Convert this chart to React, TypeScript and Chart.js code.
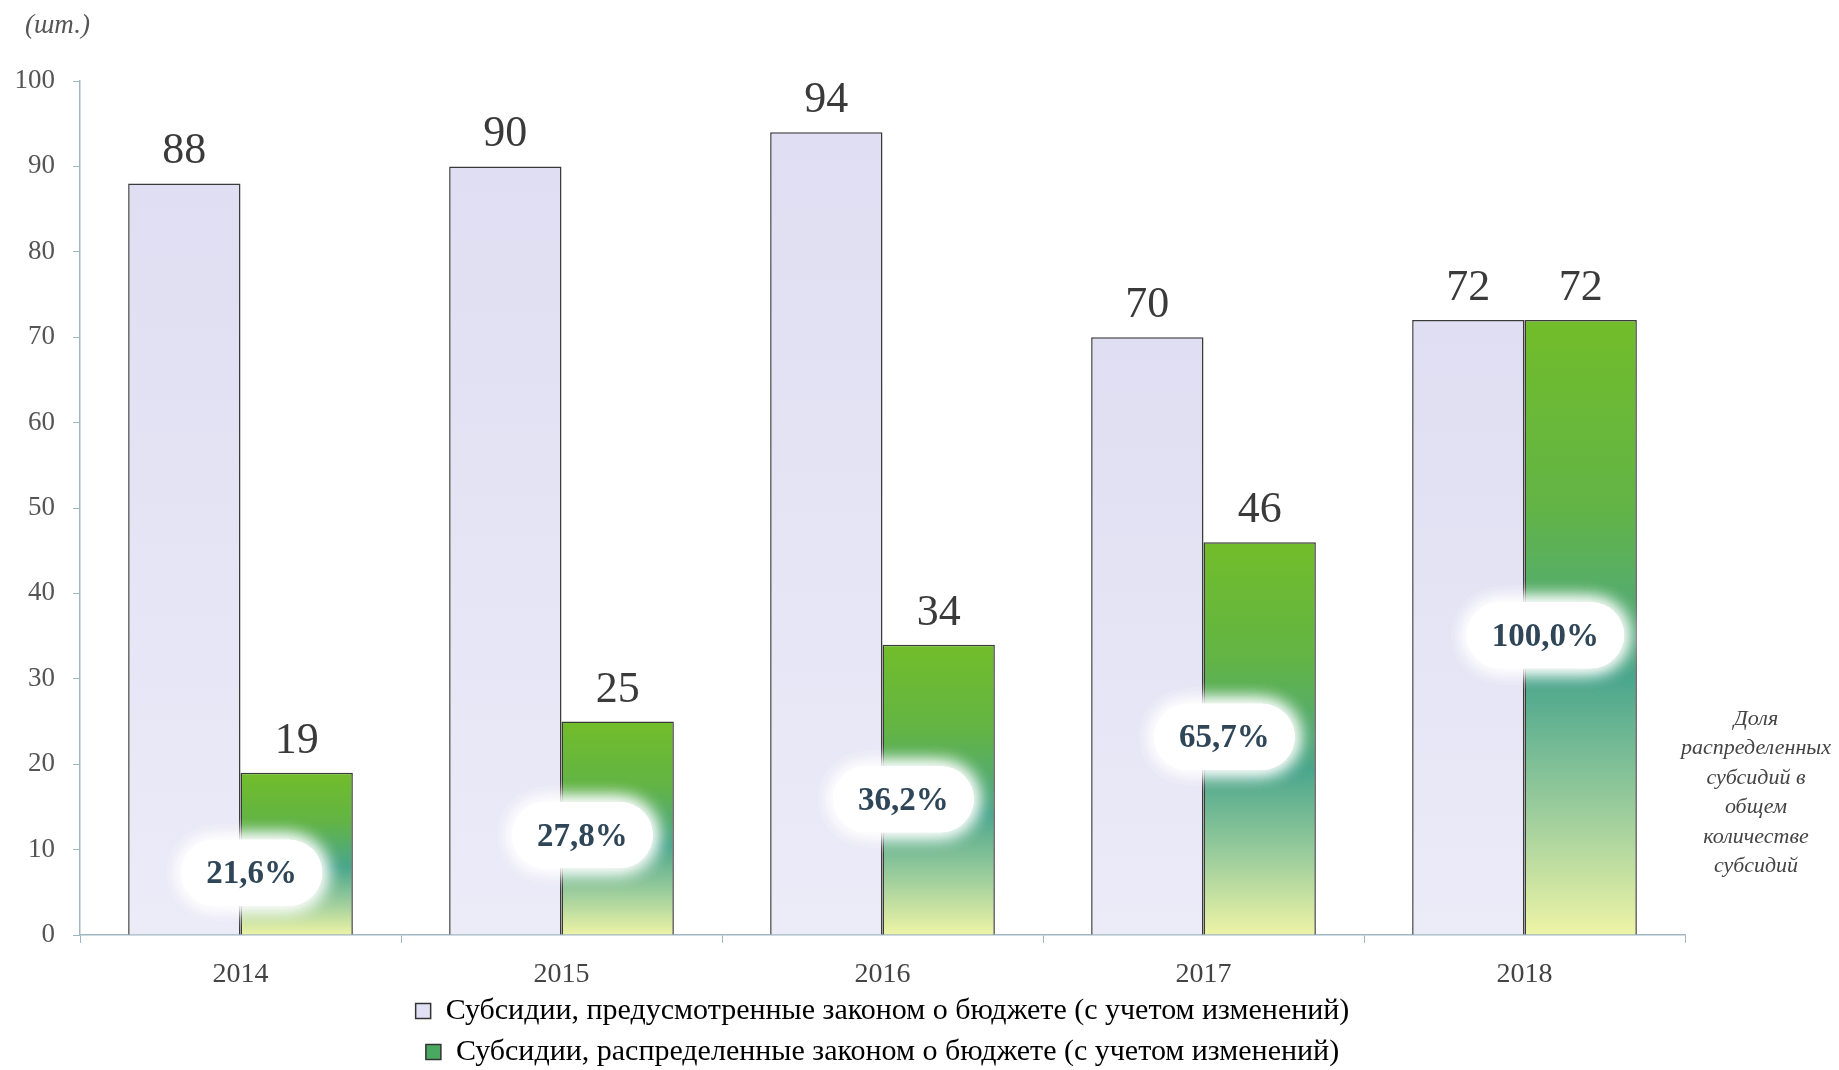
import React, { useEffect, useRef } from "react";
import { Chart, registerables } from "chart.js";

Chart.register(...registerables);

const years = ["2014", "2015", "2016", "2017", "2018"];
const planned = [88, 90, 94, 70, 72];
const distributed = [19, 25, 34, 46, 72];
const shareLabels = ["21,6%", "27,8%", "36,2%", "65,7%", "100,0%"];
const shareLabelLevel = [7.3, 11.7, 15.9, 23.2, 35.1];
const yTicks = [0, 10, 20, 30, 40, 50, 60, 70, 80, 90, 100];
const seriesNames = [
  "Субсидии, предусмотренные законом о бюджете (с учетом изменений)",
  "Субсидии, распределенные законом о бюджете (с учетом изменений)",
];
const unitLabel = "(шт.)";
const sideNote = ["Доля", "распределенных", "субсидий в", "общем", "количестве", "субсидий"];

const SERIF = "'Liberation Serif', 'Times New Roman', serif";

function barGradient(ctx: any, kind: "light" | "green") {
  const chart = ctx.chart;
  const area = chart.chartArea;
  if (!area || ctx.type !== "data") return kind === "light" ? "#e0dff3" : "#5aae50";
  const y = chart.scales.y;
  const v = ctx.raw as number;
  const top = y.getPixelForValue(v);
  const bottom = y.getPixelForValue(0);
  const g = chart.ctx.createLinearGradient(0, top, 0, bottom);
  if (kind === "light") {
    g.addColorStop(0, "#dfdef2");
    g.addColorStop(1, "#ecebf8");
  } else {
    g.addColorStop(0, "#72bd2a");
    g.addColorStop(0.3, "#62b445");
    g.addColorStop(0.58, "#4aa68c");
    g.addColorStop(0.8, "#9ccd9c");
    g.addColorStop(1, "#eef4a6");
  }
  return g;
}

const annotations = {
  id: "annotations",
  afterDatasetsDraw(chart: any) {
    const { ctx, scales } = chart;
    const x = scales.x;
    const y = scales.y;
    ctx.save();
    // value labels
    ctx.font = `44px ${SERIF}`;
    ctx.fillStyle = "#3a3a3a";
    ctx.textAlign = "center";
    ctx.textBaseline = "alphabetic";
    chart.data.datasets.forEach((ds: any, di: number) => {
      const meta = chart.getDatasetMeta(di);
      meta.data.forEach((bar: any, i: number) => {
        ctx.fillText(String(ds.data[i]), bar.x, bar.y - 20);
      });
    });
    // share pills
    const catW = x.getPixelForValue(1) - x.getPixelForValue(0);
    ctx.font = `bold 33px ${SERIF}`;
    shareLabels.forEach((txt, i) => {
      const cx = x.getPixelForValue(i) + catW * (i === 0 ? 0.035 : 0.065);
      const cy = y.getPixelForValue(shareLabelLevel[i]);
      const w = ctx.measureText(txt).width + 50;
      const h = 66;
      ctx.save();
      ctx.fillStyle = "#ffffff";
      ctx.shadowColor = "rgba(255,255,255,1)";
      ctx.shadowBlur = 20;
      ctx.beginPath();
      ctx.roundRect(cx - w / 2, cy - h / 2, w, h, h / 2);
      ctx.fill();
      ctx.fill();
      ctx.fill();
      ctx.restore();
      ctx.fillStyle = "#2f4658";
      ctx.textBaseline = "middle";
      ctx.fillText(txt, cx, cy + 2);
    });
    // unit label
    ctx.font = `italic 27px ${SERIF}`;
    ctx.fillStyle = "#555";
    ctx.textAlign = "left";
    ctx.textBaseline = "middle";
    ctx.fillText(unitLabel, 25, 26);
    // side note
    ctx.font = `italic 22px ${SERIF}`;
    ctx.fillStyle = "#444";
    ctx.textAlign = "center";
    const noteX = x.right + (chart.width - x.right) / 2 - 6;
    const noteTop = y.getPixelForValue(25.3);
    sideNote.forEach((line, i) => {
      ctx.fillText(line, noteX, noteTop + i * 29.5);
    });
    ctx.restore();
  },
};

export default function App() {
  const ref = useRef<HTMLCanvasElement | null>(null);
  useEffect(() => {
    if (!ref.current) return;
    const chart = new Chart(ref.current, {
      type: "bar",
      data: {
        labels: years,
        datasets: [
          {
            label: seriesNames[0],
            data: planned,
            backgroundColor: (c: any) => barGradient(c, "light"),
            borderColor: "#3a3a3a",
            borderWidth: 1.5,
            categoryPercentage: 0.7,
            barPercentage: 1.0,
          },
          {
            label: seriesNames[1],
            data: distributed,
            backgroundColor: (c: any) => barGradient(c, "green"),
            borderColor: "#3a3a3a",
            borderWidth: 1.5,
            categoryPercentage: 0.7,
            barPercentage: 1.0,
          },
        ],
      },
      options: {
        responsive: false,
        animation: false,
        devicePixelRatio: 1,
        layout: { padding: { left: 0, right: 154, top: 81, bottom: 0 } },
        plugins: {
          tooltip: { enabled: false },
          legend: {
            position: "bottom",
            fullSize: false,
            labels: {
              font: { family: SERIF, size: 30 },
              color: "#333",
              boxWidth: 15,
              boxHeight: 15,
              padding: 11,
              generateLabels: (chart: any) =>
                chart.data.datasets.map((ds: any, i: number) => ({
                  text: ds.label,
                  fillStyle: i === 0 ? "#e2e0f4" : "#4aa860",
                  strokeStyle: "#333",
                  lineWidth: 1.5,
                  datasetIndex: i,
                  hidden: false,
                })),
            },
          },
        },
        scales: {
          x: {
            grid: {
              display: true,
              drawOnChartArea: false,
              drawTicks: true,
              tickLength: 8,
              color: "#9fb7c3",
              offset: true,
            },
            border: { display: true, color: "#9fb7c3", width: 1.5 },
            ticks: {
              font: { family: SERIF, size: 28 },
              color: "#444",
              padding: 15,
            },
            afterFit: (s: any) => {
              s.height = 50;
            },
          },
          y: {
            min: 0,
            max: 100,
            afterBuildTicks: (s: any) => {
              s.ticks = yTicks.map((v) => ({ value: v }));
            },
            grid: {
              display: true,
              drawOnChartArea: false,
              drawTicks: true,
              tickLength: 7,
              color: "#9fb7c3",
            },
            border: { display: true, color: "#9fb7c3", width: 1.5 },
            ticks: {
              font: { family: SERIF, size: 27 },
              color: "#555",
              padding: 18,
            },
            afterFit: (s: any) => {
              s.width = 80;
            },
          },
        },
      },
      plugins: [annotations],
    } as any);
    return () => chart.destroy();
  }, []);
  return (
    <div style={{ position: "absolute", left: 0, top: 0, width: 1839, height: 1070, overflow: "hidden", background: "#fff" }}>
      <canvas ref={ref} width={1839} height={1077} style={{ display: "block" }} />
    </div>
  );
}
